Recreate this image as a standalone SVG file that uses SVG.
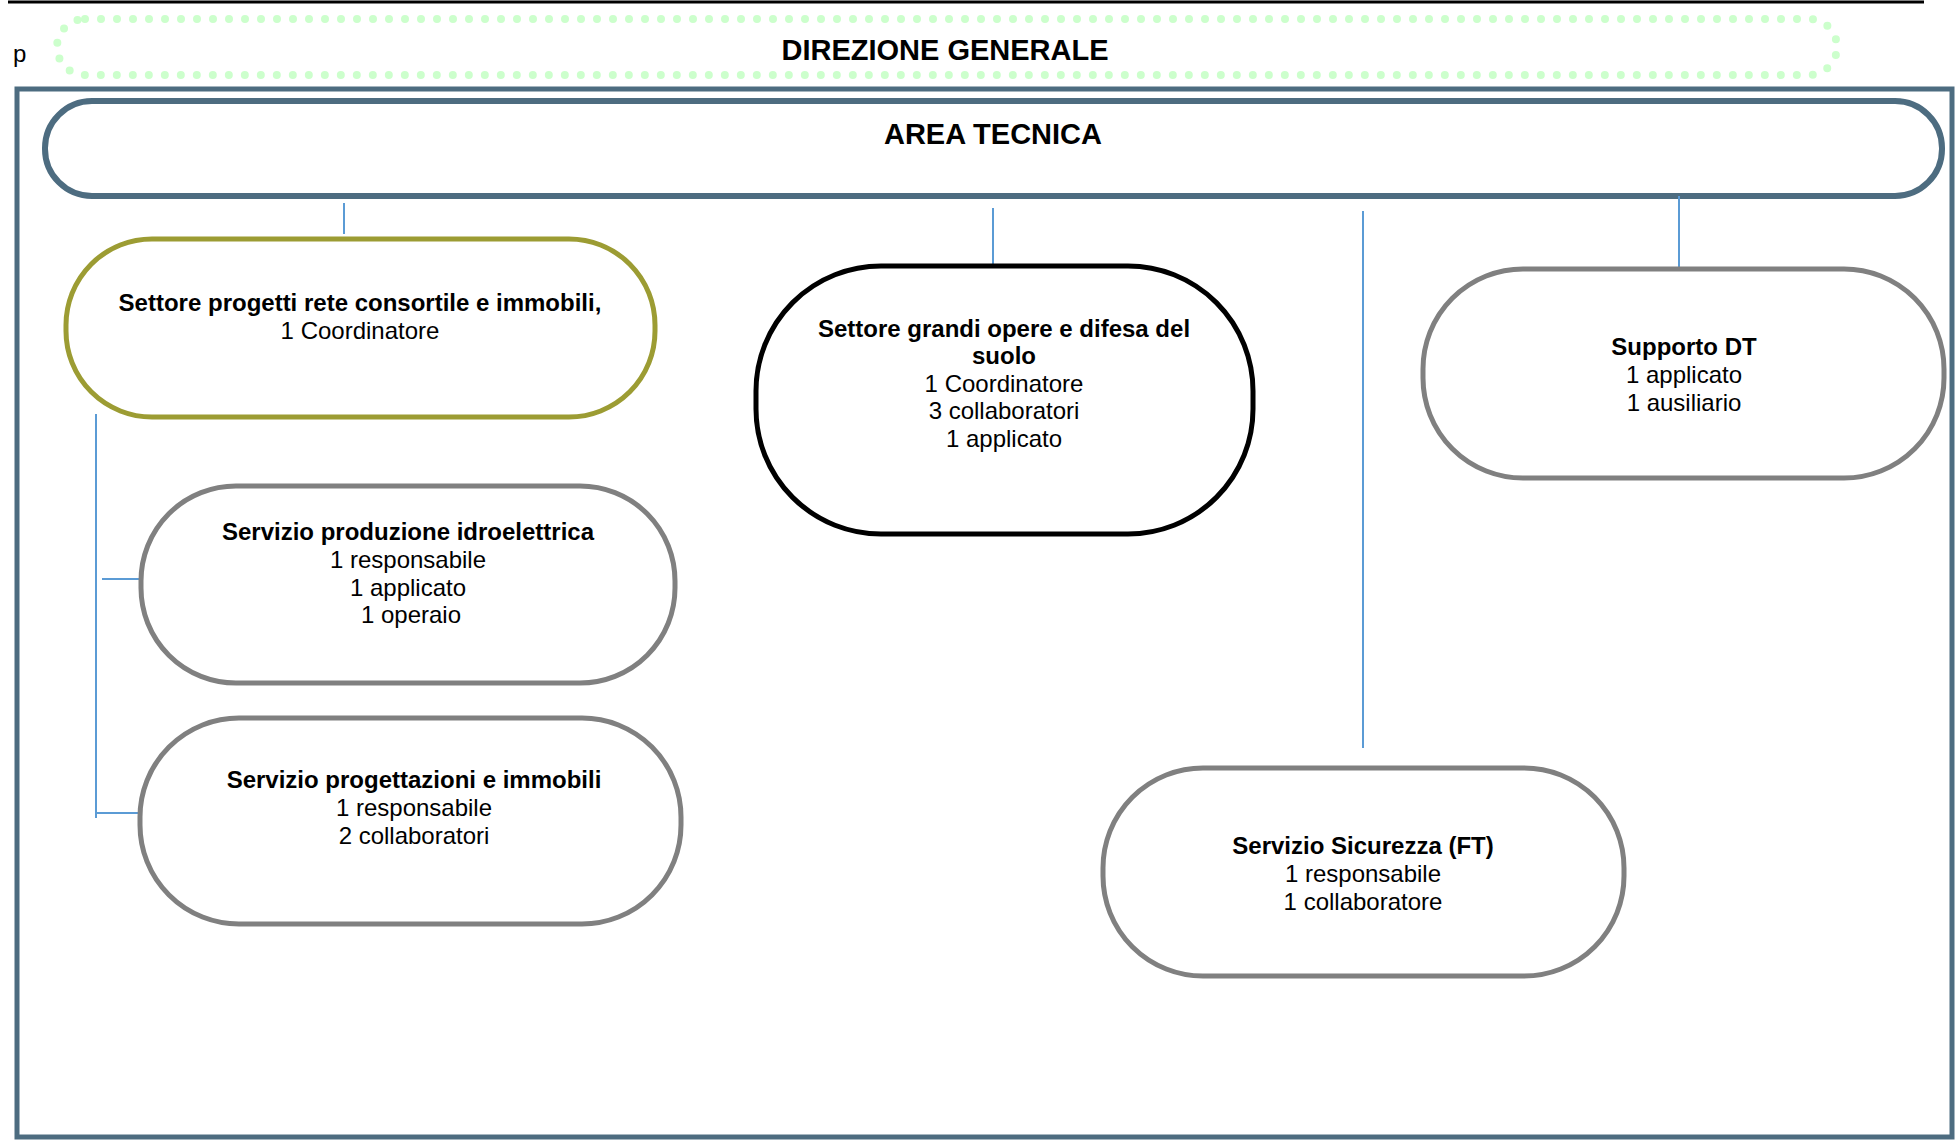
<svg xmlns="http://www.w3.org/2000/svg" width="1957" height="1140" viewBox="0 0 1957 1140">
<style>
text{font-family:"Liberation Sans",Arial,sans-serif;fill:#000;text-anchor:middle}
.b{font-weight:bold;font-size:24px}
.r{font-size:24px}
.h{font-weight:bold;font-size:29px}
.gray{fill:#fff;stroke:#808080;stroke-width:5}
.conn{stroke:#5b9bd5;stroke-width:2;fill:none}
</style>
<rect width="1957" height="1140" fill="#fff"/>
<line x1="8" y1="2" x2="1924" y2="2" stroke="#000" stroke-width="3"/>
<text x="13" y="62" style="font-size:24px;text-anchor:start">p</text>
<g id="direzione">
<rect x="57" y="19" width="1780" height="56" rx="28" fill="none" stroke="#ccffcc" stroke-width="8" stroke-linecap="round" stroke-dasharray="0 16"/>
<text class="h" x="945" y="60">DIREZIONE GENERALE</text>
</g>
<g id="frame">
<rect x="17" y="89" width="1935" height="1048" fill="none" stroke="#4d6c80" stroke-width="5"/>
</g>
<g id="area-tecnica">
<rect x="45" y="101" width="1897" height="95" rx="47" fill="#fff" stroke="#4d6c80" stroke-width="6"/>
<text class="h" x="993" y="144">AREA TECNICA</text>
</g>
<g id="connectors">
<line class="conn" x1="344" y1="203" x2="344" y2="234"/>
<line class="conn" x1="993" y1="208" x2="993" y2="266"/>
<line class="conn" x1="1363" y1="211" x2="1363" y2="748"/>
<line class="conn" x1="1679" y1="196" x2="1679" y2="268"/>
<line class="conn" x1="96" y1="414" x2="96" y2="818"/>
<line class="conn" x1="102" y1="579" x2="142" y2="579"/>
<line class="conn" x1="96" y1="813" x2="144" y2="813"/>
</g>
<g id="settore-progetti">
<rect x="66" y="239" width="589" height="178" rx="86" fill="#fff" stroke="#9c9c33" stroke-width="5"/>
<text class="b" x="360" y="310.5">Settore progetti rete consortile e immobili,</text>
<text class="r" x="360" y="338.5">1 Coordinatore</text>
</g>
<g id="servizio-produzione">
<rect class="gray" x="141" y="486" width="534" height="197" rx="95"/>
<text class="b" x="408" y="539.5">Servizio produzione idroelettrica</text>
<text class="r" x="408" y="567.5">1 responsabile</text>
<text class="r" x="408" y="595.5">1 applicato</text>
<text class="r" x="411" y="622.5">1 operaio</text>
</g>
<g id="servizio-progettazioni">
<rect class="gray" x="140" y="718" width="541" height="206" rx="99"/>
<text class="b" x="414" y="787.5">Servizio progettazioni e immobili</text>
<text class="r" x="414" y="815.5">1 responsabile</text>
<text class="r" x="414" y="843.5">2 collaboratori</text>
</g>
<g id="settore-grandi-opere">
<rect x="756" y="266" width="497" height="268" rx="125" fill="#fff" stroke="#000" stroke-width="5"/>
<text class="b" x="1004" y="336.5">Settore grandi opere e difesa del</text>
<text class="b" x="1004" y="363.5">suolo</text>
<text class="r" x="1004" y="391.5">1 Coordinatore</text>
<text class="r" x="1004" y="418.5">3 collaboratori</text>
<text class="r" x="1004" y="446.5">1 applicato</text>
</g>
<g id="supporto-dt">
<rect class="gray" x="1423" y="269" width="521" height="209" rx="100"/>
<text class="b" x="1684" y="354.5">Supporto DT</text>
<text class="r" x="1684" y="382.5">1 applicato</text>
<text class="r" x="1684" y="410.5">1 ausiliario</text>
</g>
<g id="servizio-sicurezza">
<rect class="gray" x="1103" y="768" width="521" height="208" rx="100"/>
<text class="b" x="1363" y="853.5">Servizio Sicurezza (FT)</text>
<text class="r" x="1363" y="881.5">1 responsabile</text>
<text class="r" x="1363" y="909.5">1 collaboratore</text>
</g>
</svg>
